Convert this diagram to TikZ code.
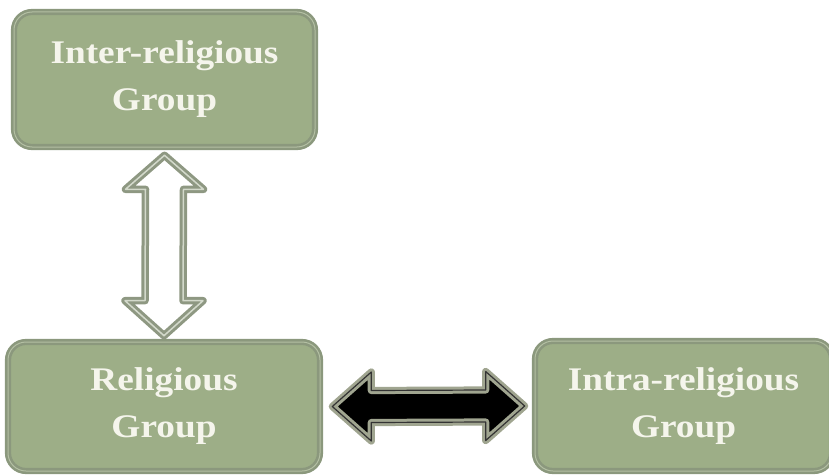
\documentclass[tikz,border=0pt]{standalone}
\usepackage{fontspec}
\setmainfont{Liberation Serif}
\newfontfamily\boxfont[FakeStretch=1.13]{Liberation Serif}
\usetikzlibrary{calc}
\definecolor{boxfill}{HTML}{9DAE87}
\definecolor{boxedge}{HTML}{8B987D}
\definecolor{boxinner}{HTML}{B3BFA3}
\definecolor{boxtext}{HTML}{F5F5EC}
\definecolor{arredge}{HTML}{8E9882}
\definecolor{arrinner}{HTML}{D3D9CB}
\definecolor{harredge}{HTML}{A0A590}
\tikzset{
  grpbox/.style={rounded corners=18pt, fill=boxfill, draw=boxedge, line width=2.6pt,
    double=boxinner, double distance=1pt, align=center, text=boxtext,
    font=\boxfont\bfseries\fontsize{33}{47}\selectfont, inner sep=0pt},
  varrow/.style={fill=white, draw=arredge, line width=3pt, double=arrinner,
    double distance=1.5pt, line join=round},
  harrow/.style={fill=black, draw=harredge, line width=3pt, double=black!80,
    double distance=1.2pt, line join=round},
}
\begin{document}
\begin{tikzpicture}[x=1pt,y=1pt]
\useasboundingbox (0,0) rectangle (829,475);
\node[grpbox, minimum width=301pt, minimum height=135pt] (top) at (164.5,395.5)
  {Inter-religious\\Group};
\node[grpbox, minimum width=312pt, minimum height=129pt] (rel) at (164,68.5)
  {Religious\\Group};
\node[grpbox, minimum width=297pt, minimum height=130pt] (intra) at (683.5,69)
  {Intra-religious\\Group};
% vertical double arrow
\coordinate (va) at ($(top.south)+(0,-7)$);
\coordinate (vb) at ($(rel.north)+(0,5)$);
\draw[varrow] (va) -- ($(va)+(39,-34)$) -- ($(va)+(19,-34)$)
  -- ($(vb)+(19,35)$) -- ($(vb)+(39,35)$) -- (vb)
  -- ($(vb)+(-39,35)$) -- ($(vb)+(-19,35)$)
  -- ($(va)+(-19,-34)$) -- ($(va)+(-39,-34)$) -- cycle;
% horizontal double arrow
\coordinate (ha) at ($(rel.east)+(11,0)$);
\coordinate (hb) at ($(intra.west)+(-9,0)$);
\draw[harrow] (ha) -- ($(ha)+(39,34.5)$) -- ($(ha)+(39,16)$)
  -- ($(hb)+(-39,16)$) -- ($(hb)+(-39,34.5)$) -- (hb)
  -- ($(hb)+(-39,-34.5)$) -- ($(hb)+(-39,-16)$)
  -- ($(ha)+(39,-16)$) -- ($(ha)+(39,-34.5)$) -- cycle;
\end{tikzpicture}
\end{document}
